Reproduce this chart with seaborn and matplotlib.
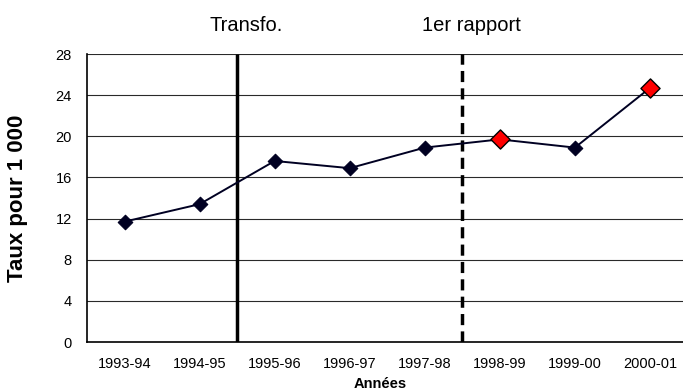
import matplotlib
matplotlib.use("Agg")
import matplotlib.pyplot as plt
import seaborn as sns
import pandas as pd
import numpy as np

# Data
annees = ["1993-94", "1994-95", "1995-96", "1996-97", "1997-98", "1998-99", "1999-00", "2000-01"]
taux = [11.7, 13.4, 17.6, 16.9, 18.9, 19.7, 18.9, 24.7]
surligne = [False, False, False, False, False, True, False, True]
y_ticks = [0, 4, 8, 12, 16, 20, 24, 28]
evenements = ["Transfo.", "1er rapport"]
evenements_pos = [1.5, 4.5]  # boundaries between years
evenements_style = ["-", (0, (3.2, 1.8))]

sns.set_theme(style="white")
plt.rcParams["font.family"] = ["Liberation Sans", "DejaVu Sans"]
plt.rcParams.update({"text.color": "black", "axes.labelcolor": "black",
                     "xtick.color": "black", "ytick.color": "black"})

df = pd.DataFrame({"pos": np.arange(len(annees)), "annee": annees,
                   "taux": taux, "surligne": surligne})

fig = plt.figure(figsize=(6.83, 3.91), dpi=100)
ax = fig.add_axes([87 / 683, 49 / 391, (687.5 - 87) / 683, 288 / 391])

# horizontal gridlines
for v in y_ticks[1:]:
    ax.axhline(v, color="#2a2a2a", lw=0.8, zorder=1)

sns.lineplot(data=df, x="pos", y="taux", color="#000022", lw=1.4, ax=ax,
             zorder=3, legend=False)
sns.scatterplot(data=df[~df.surligne], x="pos", y="taux", marker="D", s=55,
                color="#000022", edgecolor="#000022", linewidth=0.8, ax=ax,
                zorder=4, legend=False)
sns.scatterplot(data=df[df.surligne], x="pos", y="taux", marker="D", s=95,
                color="#ff0000", edgecolor="#000000", linewidth=1.0, ax=ax,
                zorder=5, legend=False)

for lab, p, ls in zip(evenements, evenements_pos, evenements_style):
    ax.plot([p, p], [0, 28], color="black", lw=2.5, ls=ls, zorder=2,
            solid_capstyle="butt", dash_capstyle="butt")
    ax.text(p + 0.12, 30.8, lab, ha="center", va="center", fontsize=14.5,
            color="black", clip_on=False)

ax.set_xlim(-0.5, len(annees) - 0.5)
ax.set_ylim(0, 28)
ax.set_yticks(y_ticks)
ax.set_yticklabels([str(v) for v in y_ticks], fontsize=10.5)

# category labels at centers, tick marks at boundaries
ax.set_xticks(np.arange(-0.5, len(annees), 1.0))
ax.set_xticklabels([])
ax.set_xticks(np.arange(len(annees)), minor=True)
ax.set_xticklabels(annees, minor=True, fontsize=10.5)
ax.tick_params(axis="x", which="major", direction="out", length=5, width=1,
               color="black")
ax.tick_params(axis="x", which="minor", length=0, pad=10.5)
ax.tick_params(axis="y", direction="out", length=4, width=1, color="black",
               pad=7)

for s in ["top", "right"]:
    ax.spines[s].set_visible(False)
for s in ["left", "bottom"]:
    ax.spines[s].set_color("black")
    ax.spines[s].set_linewidth(1.2)

ax.set_xlabel("Années", fontsize=10.5, fontweight="bold", va="center")
ax.xaxis.set_label_coords((380 - 87) / 600.5, (342 - 384) / 288)
ax.set_ylabel("Taux pour 1 000", fontsize=16, fontweight="bold", va="center")
ax.yaxis.set_label_coords((18 - 87) / 600.5, 0.5)

fig.savefig("out.png", dpi=100)
